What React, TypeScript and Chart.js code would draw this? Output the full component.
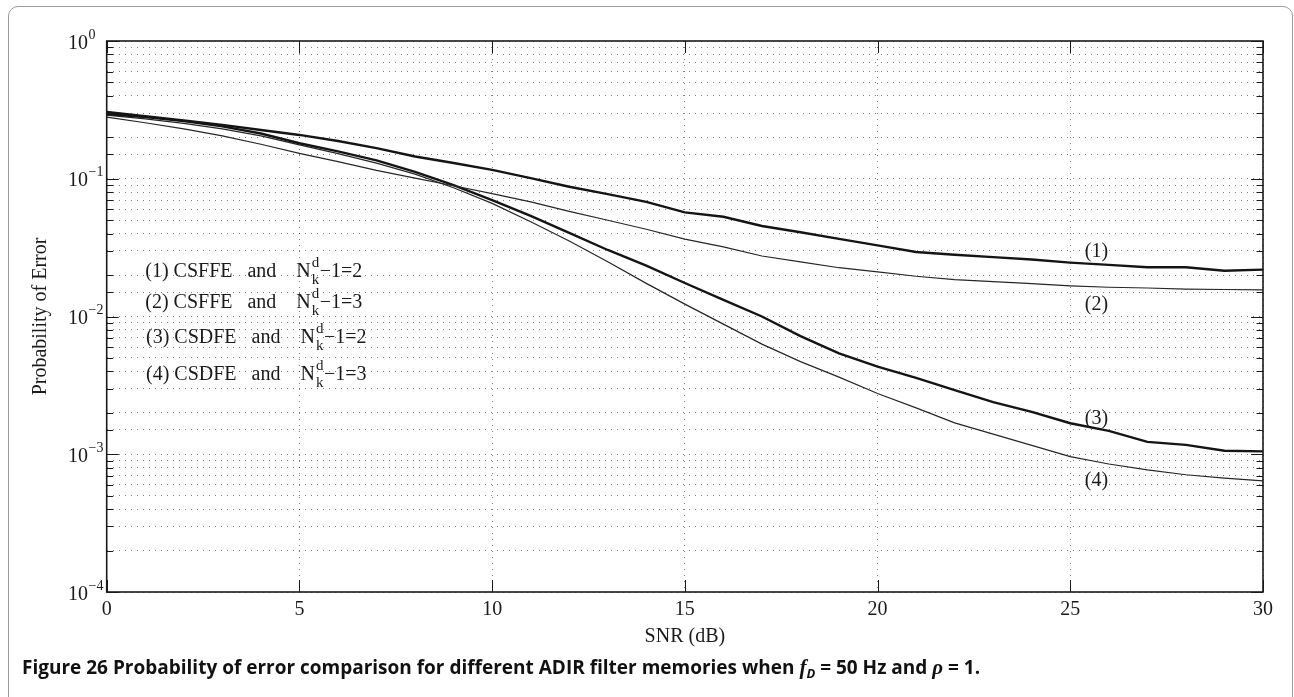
import React, { useEffect, useRef } from "react";
import { Chart, registerables } from "chart.js";

Chart.register(...registerables);

// ---- data ----
const snrDb = [0, 1, 2, 3, 4, 5, 6, 7, 8, 9, 10, 11, 12, 13, 14, 15, 16, 17, 18, 19, 20, 21, 22, 23, 24, 25, 26, 27, 28, 29, 30];

// (1) CSFFE, N-1=2
const peCsffe2 = [0.305, 0.285, 0.265, 0.246, 0.226, 0.208, 0.188, 0.167, 0.145, 0.130, 0.116, 0.101, 0.0875, 0.0774, 0.068, 0.057, 0.053, 0.0454, 0.0409, 0.0366, 0.0328, 0.0294, 0.0281, 0.027, 0.0259, 0.0246, 0.0237, 0.0228, 0.0228, 0.0215, 0.0219];
// (2) CSFFE, N-1=3
const peCsffe3 = [0.28, 0.255, 0.23, 0.205, 0.178, 0.153, 0.133, 0.115, 0.101, 0.089, 0.078, 0.068, 0.058, 0.05, 0.043, 0.0365, 0.032, 0.0275, 0.0249, 0.0226, 0.0211, 0.0196, 0.0185, 0.0179, 0.0173, 0.0167, 0.0163, 0.0161, 0.0158, 0.0157, 0.0156];
// (3) CSDFE, N-1=2
const peCsdfe2 = [0.295, 0.28, 0.262, 0.24, 0.213, 0.181, 0.158, 0.136, 0.112, 0.09, 0.070, 0.0537, 0.0404, 0.0304, 0.0234, 0.0175, 0.0132, 0.0100, 0.0072, 0.0054, 0.00432, 0.00358, 0.00292, 0.00239, 0.00203, 0.00168, 0.00148, 0.00123, 0.00117, 0.00106, 0.00105];
// (4) CSDFE, N-1=3
const peCsdfe3 = [0.29, 0.272, 0.252, 0.23, 0.205, 0.176, 0.152, 0.13, 0.108, 0.086, 0.0663, 0.0488, 0.0353, 0.025, 0.0174, 0.0123, 0.0088, 0.0063, 0.0047, 0.00363, 0.00276, 0.00217, 0.00169, 0.0014, 0.00116, 0.00096, 0.00085, 0.00077, 0.00071, 0.00067, 0.00064];

const seriesNames = ["(1) CSFFE, N-1=2", "(2) CSFFE, N-1=3", "(3) CSDFE, N-1=2", "(4) CSDFE, N-1=3"];
const seriesThick = [true, false, true, false];

const xTickValues = [0, 5, 10, 15, 20, 25, 30];
const xTickLabels = ["0", "5", "10", "15", "20", "25", "30"];
const yTickExponents = [0, -1, -2, -3, -4];
const yTickBase = "10";

const xTitle = "SNR (dB)";
const yTitle = "Probability of Error";

// in-plot legend text (anchored in data coordinates)
const legendMain = ["(1) CSFFE   and    N", "(2) CSFFE   and    N", "(3) CSDFE   and    N", "(4) CSDFE   and    N"];
const legendSup = "d";
const legendSub = "k";
const legendTail = ["\u22121=2", "\u22121=3", "\u22121=2", "\u22121=3"];
const legendAtSnr = [1.0, 1.0, 1.02, 1.02];
const legendAtPe = [0.01945, 0.01147, 0.00639, 0.00346];

const curveTags = ["(1)", "(2)", "(3)", "(4)"];
const curveTagSnr = 25.68;
const curveTagPe = [0.0294, 0.01213, 0.00181, 0.000636];

const SERIF = "'Liberation Serif', 'Times New Roman', serif";
const INK = "#1a1a1a";

const framePlugin = {
  id: "matlabFrame",
  afterDraw(chart: any) {
    const { ctx, chartArea: a } = chart;
    const xs = chart.scales.x;
    const ys = chart.scales.y;
    ctx.save();
    const seg = (x1: number, y1: number, x2: number, y2: number) => {
      ctx.beginPath();
      ctx.moveTo(x1, y1);
      ctx.lineTo(x2, y2);
      ctx.stroke();
    };
    // tick marks (inward, all four sides)
    ctx.strokeStyle = INK;
    ctx.lineWidth = 1;
    ys.ticks.forEach((t: any) => {
      const lg = Math.log10(t.value);
      const major = Math.abs(lg - Math.round(lg)) < 1e-6;
      const len = major ? 12 : 6.5;
      const py = Math.round(ys.getPixelForValue(t.value)) + 0.5;
      seg(a.left, py, a.left + len, py);
      seg(a.right, py, a.right - len, py);
    });
    xTickValues.forEach((v) => {
      const px = Math.round(xs.getPixelForValue(v)) + 0.5;
      seg(px, a.bottom, px, a.bottom - 12);
      seg(px, a.top, px, a.top + 12);
    });
    // box
    ctx.lineWidth = 1.6;
    ctx.strokeRect(a.left, a.top, a.right - a.left, a.bottom - a.top);

    ctx.fillStyle = INK;
    // x tick labels
    ctx.font = `20px ${SERIF}`;
    ctx.textAlign = "center";
    ctx.textBaseline = "alphabetic";
    xTickValues.forEach((v, i) => {
      ctx.fillText(xTickLabels[i], xs.getPixelForValue(v), a.bottom + 23);
    });
    // y tick labels 10^k
    ctx.textAlign = "left";
    yTickExponents.forEach((e) => {
      const py = ys.getPixelForValue(Math.pow(10, e));
      ctx.font = `20px ${SERIF}`;
      const bx = 68;
      ctx.fillText(yTickBase, bx, py + 7.5);
      const w = ctx.measureText(yTickBase).width;
      ctx.font = `14px ${SERIF}`;
      const ex = e < 0 ? "\u2212" + String(-e) : String(e);
      ctx.fillText(ex, bx + w + 0.5, py - 2.5);
    });
    // axis titles
    ctx.font = `20px ${SERIF}`;
    ctx.textAlign = "center";
    ctx.fillText(xTitle, (a.left + a.right) / 2, a.bottom + 50);
    ctx.save();
    ctx.translate(46, (a.top + a.bottom) / 2);
    ctx.rotate(-Math.PI / 2);
    ctx.textBaseline = "alphabetic";
    ctx.fillText(yTitle, 0, 0);
    ctx.restore();

    // in-plot legend
    ctx.textAlign = "left";
    legendMain.forEach((txt, i) => {
      const px = xs.getPixelForValue(legendAtSnr[i]);
      const py = ys.getPixelForValue(legendAtPe[i]);
      ctx.font = `20px ${SERIF}`;
      ctx.fillText(txt, px, py);
      const w = ctx.measureText(txt).width;
      ctx.font = `15px ${SERIF}`;
      const sx = px + w + 1;
      ctx.fillText(legendSup, sx, py - 10);
      ctx.fillText(legendSub, sx, py + 7);
      const ws = Math.max(ctx.measureText(legendSup).width, ctx.measureText(legendSub).width);
      ctx.font = `20px ${SERIF}`;
      ctx.fillText(legendTail[i], sx + ws + 0.5, py);
    });
    // curve tags
    ctx.textAlign = "center";
    curveTags.forEach((tag, i) => {
      const px = xs.getPixelForValue(curveTagSnr);
      const py = ys.getPixelForValue(curveTagPe[i]);
      ctx.font = `20px ${SERIF}`;
      ctx.fillText(tag, px, py + 5);
    });
    ctx.restore();
  },
};

export default function App() {
  const canvasRef = useRef<HTMLCanvasElement | null>(null);

  useEffect(() => {
    const canvas = canvasRef.current;
    if (!canvas) return;
    const allSeries = [peCsffe2, peCsffe3, peCsdfe2, peCsdfe3];
    const chart = new Chart(canvas, {
      type: "line",
      data: {
        datasets: allSeries.map((vals, i) => ({
          label: seriesNames[i],
          data: snrDb.map((s, j) => ({ x: s, y: vals[j] })),
          borderColor: seriesThick[i] ? "#141414" : "#262626",
          borderWidth: seriesThick[i] ? 2.4 : 1.2,
          pointRadius: 0,
          tension: 0,
          fill: false,
        })),
      },
      options: {
        responsive: false,
        animation: false,
        devicePixelRatio: 1,
        layout: { padding: { left: 106.7, right: 31, top: 41, bottom: 105 } },
        plugins: { legend: { display: false }, tooltip: { enabled: false } },
        scales: {
          x: {
            type: "linear",
            min: 0,
            max: 30,
            ticks: { display: false, stepSize: 5 },
            grid: { color: "rgba(0,0,0,0.5)", lineWidth: 1, drawTicks: false },
            border: { display: false, dash: [1, 5] },
          },
          y: {
            type: "logarithmic",
            min: 1e-4,
            max: 1,
            ticks: { display: false },
            grid: { color: "rgba(0,0,0,0.5)", lineWidth: 1, drawTicks: false },
            border: { display: false, dash: [1, 5] },
          },
        },
      },
      plugins: [framePlugin],
    });
    return () => chart.destroy();
  }, []);

  return (
    <div style={{ position: "absolute", left: 0, top: 0, width: 1294, height: 697, overflow: "hidden", background: "#fff" }}>
      <div
        style={{
          position: "absolute",
          left: 7.5,
          top: 6,
          width: 1285,
          height: 760,
          boxSizing: "border-box",
          border: "1.5px solid #9c9c9c",
          borderRadius: 10,
        }}
      />
      <canvas ref={canvasRef} width={1294} height={697} style={{ position: "absolute", left: 0, top: 0 }} />
      <div
        style={{
          position: "absolute",
          left: 22,
          top: 656,
          whiteSpace: "nowrap",
          fontFamily: "'Open Sans', 'Noto Sans', sans-serif",
          fontSize: 19,
          lineHeight: "22px",
          color: "#111",
          fontWeight: 700,
        }}
      >
        Figure 26{" "}
        <span style={{ fontWeight: 700 }}>
          Probability of error comparison for different ADIR filter memories when{" "}
          <i style={{ fontFamily: SERIF, fontSize: 21 }}>f</i>
          <sub style={{ fontSize: 13, verticalAlign: "-4px", lineHeight: 0 }}>
            <i>D</i>
          </sub>{" "}
          = 50 Hz and <i style={{ fontFamily: SERIF, fontSize: 21 }}>ρ</i> = 1.
        </span>
      </div>
    </div>
  );
}
